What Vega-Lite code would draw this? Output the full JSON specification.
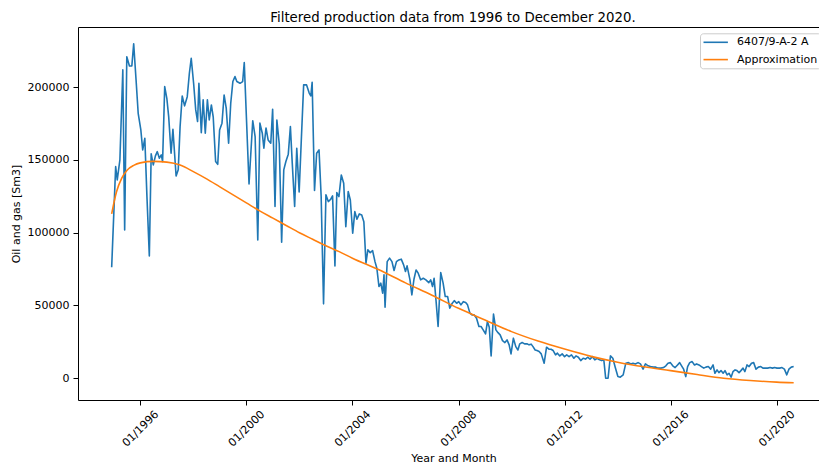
{
  "$schema": "https://vega.github.io/schema/vega-lite/v6.json",
  "autosize": {"type": "none"},
  "padding": {"left": 78, "top": 27, "right": 0, "bottom": 66},
  "width": 741,
  "height": 373,
  "background": "white",
  "title": {
    "text": "Filtered production data from 1996 to December 2020.",
    "font": "DejaVu Sans",
    "fontSize": 13.3,
    "fontWeight": "normal",
    "color": "black",
    "baseline": "alphabetic",
    "offset": 7,
    "dx": 4.5,
    "dy": 15
  },
  "config": {
    "view": {"stroke": null},
    "axis": {
      "domainColor": "black",
      "tickColor": "black",
      "labelColor": "black",
      "titleColor": "black",
      "labelFont": "DejaVu Sans",
      "titleFont": "DejaVu Sans",
      "labelFontSize": 11,
      "titleFontSize": 11,
      "titleFontWeight": "normal",
      "domainWidth": 1,
      "tickWidth": 1,
      "tickSize": 5,
      "grid": false
    },
    "legend": {
      "labelFont": "DejaVu Sans",
      "labelFontSize": 11,
      "labelColor": "black"
    }
  },
  "encoding": {
    "y": {
      "field": "value",
      "type": "quantitative",
      "scale": {"domain": [-15000, 241400], "nice": false, "zero": false},
      "axis": {
        "values": [0, 50000, 100000, 150000, 200000],
        "format": "d",
        "labelPadding": 4,
        "title": "Oil and gas [Sm3]",
        "titlePadding": 6
      }
    },
    "color": {
      "field": "series",
      "type": "nominal",
      "scale": {"domain": ["6407/9-A-2 A", "Approximation"], "range": ["#1f77b4", "#ff7f0e"]},
      "legend": {
        "title": null,
        "orient": "none",
        "legendX": 622,
        "legendY": 6.3,
        "symbolType": "M-2.71,0L2.71,0",
        "symbolSize": 81,
        "symbolStrokeWidth": 1.6,
        "symbolOffset": 6.7,
        "labelOffset": 15.7,
        "padding": 3.5,
        "rowPadding": 5.3,
        "strokeColor": "#cccccc",
        "fillColor": "rgba(255,255,255,0.8)",
        "cornerRadius": 3
      }
    }
  },
  "resolve": {"axis": {"x": "independent"}},
  "layer": [
    {
      "data": {"values": [
        {"year": 1994.92, "value": 76300, "series": "6407/9-A-2 A"},
        {"year": 1995.07, "value": 145400, "series": "6407/9-A-2 A"},
        {"year": 1995.13, "value": 136300, "series": "6407/9-A-2 A"},
        {"year": 1995.23, "value": 150000, "series": "6407/9-A-2 A"},
        {"year": 1995.34, "value": 211900, "series": "6407/9-A-2 A"},
        {"year": 1995.41, "value": 101900, "series": "6407/9-A-2 A"},
        {"year": 1995.49, "value": 221000, "series": "6407/9-A-2 A"},
        {"year": 1995.59, "value": 214600, "series": "6407/9-A-2 A"},
        {"year": 1995.68, "value": 214600, "series": "6407/9-A-2 A"},
        {"year": 1995.75, "value": 229800, "series": "6407/9-A-2 A"},
        {"year": 1995.84, "value": 205000, "series": "6407/9-A-2 A"},
        {"year": 1995.92, "value": 182100, "series": "6407/9-A-2 A"},
        {"year": 1996.02, "value": 170600, "series": "6407/9-A-2 A"},
        {"year": 1996.09, "value": 156900, "series": "6407/9-A-2 A"},
        {"year": 1996.17, "value": 164900, "series": "6407/9-A-2 A"},
        {"year": 1996.25, "value": 124800, "series": "6407/9-A-2 A"},
        {"year": 1996.34, "value": 84000, "series": "6407/9-A-2 A"},
        {"year": 1996.41, "value": 154200, "series": "6407/9-A-2 A"},
        {"year": 1996.49, "value": 146600, "series": "6407/9-A-2 A"},
        {"year": 1996.57, "value": 152800, "series": "6407/9-A-2 A"},
        {"year": 1996.64, "value": 155700, "series": "6407/9-A-2 A"},
        {"year": 1996.72, "value": 151200, "series": "6407/9-A-2 A"},
        {"year": 1996.79, "value": 153500, "series": "6407/9-A-2 A"},
        {"year": 1996.84, "value": 148900, "series": "6407/9-A-2 A"},
        {"year": 1996.92, "value": 200400, "series": "6407/9-A-2 A"},
        {"year": 1997.0, "value": 192400, "series": "6407/9-A-2 A"},
        {"year": 1997.07, "value": 179800, "series": "6407/9-A-2 A"},
        {"year": 1997.16, "value": 154600, "series": "6407/9-A-2 A"},
        {"year": 1997.23, "value": 171100, "series": "6407/9-A-2 A"},
        {"year": 1997.35, "value": 139000, "series": "6407/9-A-2 A"},
        {"year": 1997.43, "value": 143200, "series": "6407/9-A-2 A"},
        {"year": 1997.5, "value": 172900, "series": "6407/9-A-2 A"},
        {"year": 1997.58, "value": 194000, "series": "6407/9-A-2 A"},
        {"year": 1997.67, "value": 187200, "series": "6407/9-A-2 A"},
        {"year": 1997.77, "value": 193500, "series": "6407/9-A-2 A"},
        {"year": 1997.85, "value": 209600, "series": "6407/9-A-2 A"},
        {"year": 1997.92, "value": 219900, "series": "6407/9-A-2 A"},
        {"year": 1998.01, "value": 202700, "series": "6407/9-A-2 A"},
        {"year": 1998.09, "value": 184400, "series": "6407/9-A-2 A"},
        {"year": 1998.16, "value": 176400, "series": "6407/9-A-2 A"},
        {"year": 1998.21, "value": 202700, "series": "6407/9-A-2 A"},
        {"year": 1998.3, "value": 168800, "series": "6407/9-A-2 A"},
        {"year": 1998.37, "value": 191300, "series": "6407/9-A-2 A"},
        {"year": 1998.45, "value": 168400, "series": "6407/9-A-2 A"},
        {"year": 1998.53, "value": 191300, "series": "6407/9-A-2 A"},
        {"year": 1998.6, "value": 177500, "series": "6407/9-A-2 A"},
        {"year": 1998.68, "value": 187800, "series": "6407/9-A-2 A"},
        {"year": 1998.75, "value": 179400, "series": "6407/9-A-2 A"},
        {"year": 1998.84, "value": 148900, "series": "6407/9-A-2 A"},
        {"year": 1998.92, "value": 147000, "series": "6407/9-A-2 A"},
        {"year": 1998.99, "value": 170600, "series": "6407/9-A-2 A"},
        {"year": 1999.08, "value": 175300, "series": "6407/9-A-2 A"},
        {"year": 1999.16, "value": 194700, "series": "6407/9-A-2 A"},
        {"year": 1999.24, "value": 185600, "series": "6407/9-A-2 A"},
        {"year": 1999.33, "value": 161500, "series": "6407/9-A-2 A"},
        {"year": 1999.41, "value": 189000, "series": "6407/9-A-2 A"},
        {"year": 1999.49, "value": 203900, "series": "6407/9-A-2 A"},
        {"year": 1999.57, "value": 207300, "series": "6407/9-A-2 A"},
        {"year": 1999.64, "value": 203900, "series": "6407/9-A-2 A"},
        {"year": 1999.76, "value": 202700, "series": "6407/9-A-2 A"},
        {"year": 1999.86, "value": 203900, "series": "6407/9-A-2 A"},
        {"year": 1999.92, "value": 216900, "series": "6407/9-A-2 A"},
        {"year": 2000.1, "value": 133500, "series": "6407/9-A-2 A"},
        {"year": 2000.24, "value": 177000, "series": "6407/9-A-2 A"},
        {"year": 2000.33, "value": 166100, "series": "6407/9-A-2 A"},
        {"year": 2000.43, "value": 95000, "series": "6407/9-A-2 A"},
        {"year": 2000.51, "value": 175300, "series": "6407/9-A-2 A"},
        {"year": 2000.6, "value": 168400, "series": "6407/9-A-2 A"},
        {"year": 2000.66, "value": 158100, "series": "6407/9-A-2 A"},
        {"year": 2000.74, "value": 172000, "series": "6407/9-A-2 A"},
        {"year": 2000.82, "value": 163800, "series": "6407/9-A-2 A"},
        {"year": 2000.92, "value": 161500, "series": "6407/9-A-2 A"},
        {"year": 2000.99, "value": 184900, "series": "6407/9-A-2 A"},
        {"year": 2001.08, "value": 118000, "series": "6407/9-A-2 A"},
        {"year": 2001.15, "value": 177500, "series": "6407/9-A-2 A"},
        {"year": 2001.24, "value": 161000, "series": "6407/9-A-2 A"},
        {"year": 2001.33, "value": 93500, "series": "6407/9-A-2 A"},
        {"year": 2001.41, "value": 143200, "series": "6407/9-A-2 A"},
        {"year": 2001.49, "value": 148900, "series": "6407/9-A-2 A"},
        {"year": 2001.58, "value": 154000, "series": "6407/9-A-2 A"},
        {"year": 2001.66, "value": 172900, "series": "6407/9-A-2 A"},
        {"year": 2001.73, "value": 147800, "series": "6407/9-A-2 A"},
        {"year": 2001.82, "value": 118000, "series": "6407/9-A-2 A"},
        {"year": 2001.9, "value": 158000, "series": "6407/9-A-2 A"},
        {"year": 2001.99, "value": 128000, "series": "6407/9-A-2 A"},
        {"year": 2002.07, "value": 163000, "series": "6407/9-A-2 A"},
        {"year": 2002.16, "value": 201600, "series": "6407/9-A-2 A"},
        {"year": 2002.27, "value": 201600, "series": "6407/9-A-2 A"},
        {"year": 2002.37, "value": 196000, "series": "6407/9-A-2 A"},
        {"year": 2002.43, "value": 194000, "series": "6407/9-A-2 A"},
        {"year": 2002.48, "value": 203400, "series": "6407/9-A-2 A"},
        {"year": 2002.57, "value": 129000, "series": "6407/9-A-2 A"},
        {"year": 2002.65, "value": 154600, "series": "6407/9-A-2 A"},
        {"year": 2002.74, "value": 156900, "series": "6407/9-A-2 A"},
        {"year": 2002.82, "value": 125000, "series": "6407/9-A-2 A"},
        {"year": 2002.91, "value": 51100, "series": "6407/9-A-2 A"},
        {"year": 2003.0, "value": 126000, "series": "6407/9-A-2 A"},
        {"year": 2003.09, "value": 121400, "series": "6407/9-A-2 A"},
        {"year": 2003.18, "value": 123000, "series": "6407/9-A-2 A"},
        {"year": 2003.25, "value": 125300, "series": "6407/9-A-2 A"},
        {"year": 2003.34, "value": 77200, "series": "6407/9-A-2 A"},
        {"year": 2003.41, "value": 127600, "series": "6407/9-A-2 A"},
        {"year": 2003.49, "value": 124800, "series": "6407/9-A-2 A"},
        {"year": 2003.58, "value": 139700, "series": "6407/9-A-2 A"},
        {"year": 2003.67, "value": 134000, "series": "6407/9-A-2 A"},
        {"year": 2003.75, "value": 104200, "series": "6407/9-A-2 A"},
        {"year": 2003.84, "value": 128300, "series": "6407/9-A-2 A"},
        {"year": 2003.92, "value": 122500, "series": "6407/9-A-2 A"},
        {"year": 2004.01, "value": 99700, "series": "6407/9-A-2 A"},
        {"year": 2004.09, "value": 114500, "series": "6407/9-A-2 A"},
        {"year": 2004.17, "value": 109300, "series": "6407/9-A-2 A"},
        {"year": 2004.26, "value": 112900, "series": "6407/9-A-2 A"},
        {"year": 2004.35, "value": 112200, "series": "6407/9-A-2 A"},
        {"year": 2004.43, "value": 107600, "series": "6407/9-A-2 A"},
        {"year": 2004.51, "value": 79000, "series": "6407/9-A-2 A"},
        {"year": 2004.58, "value": 88200, "series": "6407/9-A-2 A"},
        {"year": 2004.67, "value": 86300, "series": "6407/9-A-2 A"},
        {"year": 2004.76, "value": 87700, "series": "6407/9-A-2 A"},
        {"year": 2004.85, "value": 80100, "series": "6407/9-A-2 A"},
        {"year": 2004.92, "value": 75600, "series": "6407/9-A-2 A"},
        {"year": 2005.0, "value": 63000, "series": "6407/9-A-2 A"},
        {"year": 2005.07, "value": 65300, "series": "6407/9-A-2 A"},
        {"year": 2005.14, "value": 58400, "series": "6407/9-A-2 A"},
        {"year": 2005.19, "value": 71000, "series": "6407/9-A-2 A"},
        {"year": 2005.23, "value": 48800, "series": "6407/9-A-2 A"},
        {"year": 2005.31, "value": 80100, "series": "6407/9-A-2 A"},
        {"year": 2005.4, "value": 82500, "series": "6407/9-A-2 A"},
        {"year": 2005.49, "value": 80100, "series": "6407/9-A-2 A"},
        {"year": 2005.57, "value": 74000, "series": "6407/9-A-2 A"},
        {"year": 2005.66, "value": 80100, "series": "6407/9-A-2 A"},
        {"year": 2005.75, "value": 81300, "series": "6407/9-A-2 A"},
        {"year": 2005.84, "value": 81800, "series": "6407/9-A-2 A"},
        {"year": 2005.93, "value": 77900, "series": "6407/9-A-2 A"},
        {"year": 2006.0, "value": 73300, "series": "6407/9-A-2 A"},
        {"year": 2006.06, "value": 77200, "series": "6407/9-A-2 A"},
        {"year": 2006.17, "value": 67600, "series": "6407/9-A-2 A"},
        {"year": 2006.24, "value": 57300, "series": "6407/9-A-2 A"},
        {"year": 2006.32, "value": 68000, "series": "6407/9-A-2 A"},
        {"year": 2006.4, "value": 74400, "series": "6407/9-A-2 A"},
        {"year": 2006.48, "value": 72200, "series": "6407/9-A-2 A"},
        {"year": 2006.57, "value": 67600, "series": "6407/9-A-2 A"},
        {"year": 2006.67, "value": 68700, "series": "6407/9-A-2 A"},
        {"year": 2006.77, "value": 67600, "series": "6407/9-A-2 A"},
        {"year": 2006.88, "value": 65700, "series": "6407/9-A-2 A"},
        {"year": 2006.95, "value": 67600, "series": "6407/9-A-2 A"},
        {"year": 2007.02, "value": 63000, "series": "6407/9-A-2 A"},
        {"year": 2007.08, "value": 68700, "series": "6407/9-A-2 A"},
        {"year": 2007.15, "value": 53800, "series": "6407/9-A-2 A"},
        {"year": 2007.23, "value": 35500, "series": "6407/9-A-2 A"},
        {"year": 2007.33, "value": 72600, "series": "6407/9-A-2 A"},
        {"year": 2007.42, "value": 65300, "series": "6407/9-A-2 A"},
        {"year": 2007.5, "value": 56100, "series": "6407/9-A-2 A"},
        {"year": 2007.59, "value": 56100, "series": "6407/9-A-2 A"},
        {"year": 2007.67, "value": 48100, "series": "6407/9-A-2 A"},
        {"year": 2007.75, "value": 51100, "series": "6407/9-A-2 A"},
        {"year": 2007.84, "value": 53300, "series": "6407/9-A-2 A"},
        {"year": 2007.93, "value": 51500, "series": "6407/9-A-2 A"},
        {"year": 2008.01, "value": 52600, "series": "6407/9-A-2 A"},
        {"year": 2008.09, "value": 50400, "series": "6407/9-A-2 A"},
        {"year": 2008.18, "value": 52600, "series": "6407/9-A-2 A"},
        {"year": 2008.27, "value": 52000, "series": "6407/9-A-2 A"},
        {"year": 2008.34, "value": 50400, "series": "6407/9-A-2 A"},
        {"year": 2008.43, "value": 44700, "series": "6407/9-A-2 A"},
        {"year": 2008.51, "value": 43500, "series": "6407/9-A-2 A"},
        {"year": 2008.59, "value": 43500, "series": "6407/9-A-2 A"},
        {"year": 2008.68, "value": 41200, "series": "6407/9-A-2 A"},
        {"year": 2008.77, "value": 35500, "series": "6407/9-A-2 A"},
        {"year": 2008.85, "value": 35500, "series": "6407/9-A-2 A"},
        {"year": 2008.93, "value": 33200, "series": "6407/9-A-2 A"},
        {"year": 2009.02, "value": 30400, "series": "6407/9-A-2 A"},
        {"year": 2009.09, "value": 38900, "series": "6407/9-A-2 A"},
        {"year": 2009.16, "value": 35000, "series": "6407/9-A-2 A"},
        {"year": 2009.23, "value": 15300, "series": "6407/9-A-2 A"},
        {"year": 2009.32, "value": 44000, "series": "6407/9-A-2 A"},
        {"year": 2009.41, "value": 33200, "series": "6407/9-A-2 A"},
        {"year": 2009.49, "value": 31300, "series": "6407/9-A-2 A"},
        {"year": 2009.57, "value": 29800, "series": "6407/9-A-2 A"},
        {"year": 2009.66, "value": 25800, "series": "6407/9-A-2 A"},
        {"year": 2009.75, "value": 24500, "series": "6407/9-A-2 A"},
        {"year": 2009.83, "value": 26300, "series": "6407/9-A-2 A"},
        {"year": 2009.91, "value": 22900, "series": "6407/9-A-2 A"},
        {"year": 2009.98, "value": 16700, "series": "6407/9-A-2 A"},
        {"year": 2010.07, "value": 27500, "series": "6407/9-A-2 A"},
        {"year": 2010.16, "value": 21700, "series": "6407/9-A-2 A"},
        {"year": 2010.24, "value": 19400, "series": "6407/9-A-2 A"},
        {"year": 2010.31, "value": 23600, "series": "6407/9-A-2 A"},
        {"year": 2010.4, "value": 24500, "series": "6407/9-A-2 A"},
        {"year": 2010.49, "value": 23600, "series": "6407/9-A-2 A"},
        {"year": 2010.58, "value": 23600, "series": "6407/9-A-2 A"},
        {"year": 2010.66, "value": 22900, "series": "6407/9-A-2 A"},
        {"year": 2010.74, "value": 23400, "series": "6407/9-A-2 A"},
        {"year": 2010.81, "value": 21700, "series": "6407/9-A-2 A"},
        {"year": 2010.89, "value": 19400, "series": "6407/9-A-2 A"},
        {"year": 2010.96, "value": 19000, "series": "6407/9-A-2 A"},
        {"year": 2011.04, "value": 18300, "series": "6407/9-A-2 A"},
        {"year": 2011.12, "value": 16700, "series": "6407/9-A-2 A"},
        {"year": 2011.23, "value": 10300, "series": "6407/9-A-2 A"},
        {"year": 2011.32, "value": 21300, "series": "6407/9-A-2 A"},
        {"year": 2011.41, "value": 19900, "series": "6407/9-A-2 A"},
        {"year": 2011.49, "value": 19900, "series": "6407/9-A-2 A"},
        {"year": 2011.57, "value": 19000, "series": "6407/9-A-2 A"},
        {"year": 2011.66, "value": 16000, "series": "6407/9-A-2 A"},
        {"year": 2011.73, "value": 17200, "series": "6407/9-A-2 A"},
        {"year": 2011.82, "value": 15300, "series": "6407/9-A-2 A"},
        {"year": 2011.91, "value": 16700, "series": "6407/9-A-2 A"},
        {"year": 2012.0, "value": 14800, "series": "6407/9-A-2 A"},
        {"year": 2012.08, "value": 16000, "series": "6407/9-A-2 A"},
        {"year": 2012.17, "value": 14800, "series": "6407/9-A-2 A"},
        {"year": 2012.26, "value": 16000, "series": "6407/9-A-2 A"},
        {"year": 2012.35, "value": 13700, "series": "6407/9-A-2 A"},
        {"year": 2012.43, "value": 15300, "series": "6407/9-A-2 A"},
        {"year": 2012.52, "value": 14400, "series": "6407/9-A-2 A"},
        {"year": 2012.61, "value": 12100, "series": "6407/9-A-2 A"},
        {"year": 2012.7, "value": 13700, "series": "6407/9-A-2 A"},
        {"year": 2012.79, "value": 13100, "series": "6407/9-A-2 A"},
        {"year": 2012.87, "value": 14400, "series": "6407/9-A-2 A"},
        {"year": 2012.96, "value": 13100, "series": "6407/9-A-2 A"},
        {"year": 2013.05, "value": 14800, "series": "6407/9-A-2 A"},
        {"year": 2013.14, "value": 12600, "series": "6407/9-A-2 A"},
        {"year": 2013.23, "value": 13700, "series": "6407/9-A-2 A"},
        {"year": 2013.32, "value": 12600, "series": "6407/9-A-2 A"},
        {"year": 2013.4, "value": 12100, "series": "6407/9-A-2 A"},
        {"year": 2013.48, "value": 12600, "series": "6407/9-A-2 A"},
        {"year": 2013.55, "value": 0, "series": "6407/9-A-2 A"},
        {"year": 2013.64, "value": 0, "series": "6407/9-A-2 A"},
        {"year": 2013.73, "value": 15300, "series": "6407/9-A-2 A"},
        {"year": 2013.82, "value": 13700, "series": "6407/9-A-2 A"},
        {"year": 2013.91, "value": 7500, "series": "6407/9-A-2 A"},
        {"year": 2014.01, "value": 1100, "series": "6407/9-A-2 A"},
        {"year": 2014.1, "value": 700, "series": "6407/9-A-2 A"},
        {"year": 2014.21, "value": 2300, "series": "6407/9-A-2 A"},
        {"year": 2014.31, "value": 10300, "series": "6407/9-A-2 A"},
        {"year": 2014.41, "value": 10700, "series": "6407/9-A-2 A"},
        {"year": 2014.5, "value": 9800, "series": "6407/9-A-2 A"},
        {"year": 2014.58, "value": 10300, "series": "6407/9-A-2 A"},
        {"year": 2014.67, "value": 9800, "series": "6407/9-A-2 A"},
        {"year": 2014.77, "value": 10700, "series": "6407/9-A-2 A"},
        {"year": 2014.86, "value": 9800, "series": "6407/9-A-2 A"},
        {"year": 2014.96, "value": 6200, "series": "6407/9-A-2 A"},
        {"year": 2015.05, "value": 9800, "series": "6407/9-A-2 A"},
        {"year": 2015.15, "value": 8500, "series": "6407/9-A-2 A"},
        {"year": 2015.24, "value": 8000, "series": "6407/9-A-2 A"},
        {"year": 2015.34, "value": 7600, "series": "6407/9-A-2 A"},
        {"year": 2015.44, "value": 7600, "series": "6407/9-A-2 A"},
        {"year": 2015.52, "value": 6900, "series": "6407/9-A-2 A"},
        {"year": 2015.63, "value": 6900, "series": "6407/9-A-2 A"},
        {"year": 2015.73, "value": 7300, "series": "6407/9-A-2 A"},
        {"year": 2015.82, "value": 8500, "series": "6407/9-A-2 A"},
        {"year": 2015.9, "value": 10300, "series": "6407/9-A-2 A"},
        {"year": 2015.99, "value": 10700, "series": "6407/9-A-2 A"},
        {"year": 2016.08, "value": 8500, "series": "6407/9-A-2 A"},
        {"year": 2016.17, "value": 7300, "series": "6407/9-A-2 A"},
        {"year": 2016.26, "value": 9100, "series": "6407/9-A-2 A"},
        {"year": 2016.34, "value": 10700, "series": "6407/9-A-2 A"},
        {"year": 2016.43, "value": 8000, "series": "6407/9-A-2 A"},
        {"year": 2016.49, "value": 6200, "series": "6407/9-A-2 A"},
        {"year": 2016.57, "value": 1100, "series": "6407/9-A-2 A"},
        {"year": 2016.64, "value": 8000, "series": "6407/9-A-2 A"},
        {"year": 2016.72, "value": 10700, "series": "6407/9-A-2 A"},
        {"year": 2016.81, "value": 11400, "series": "6407/9-A-2 A"},
        {"year": 2016.9, "value": 9100, "series": "6407/9-A-2 A"},
        {"year": 2016.98, "value": 9800, "series": "6407/9-A-2 A"},
        {"year": 2017.07, "value": 9100, "series": "6407/9-A-2 A"},
        {"year": 2017.16, "value": 8000, "series": "6407/9-A-2 A"},
        {"year": 2017.25, "value": 6900, "series": "6407/9-A-2 A"},
        {"year": 2017.33, "value": 7600, "series": "6407/9-A-2 A"},
        {"year": 2017.42, "value": 8000, "series": "6407/9-A-2 A"},
        {"year": 2017.51, "value": 6200, "series": "6407/9-A-2 A"},
        {"year": 2017.6, "value": 9100, "series": "6407/9-A-2 A"},
        {"year": 2017.67, "value": 3400, "series": "6407/9-A-2 A"},
        {"year": 2017.75, "value": 5700, "series": "6407/9-A-2 A"},
        {"year": 2017.82, "value": 3800, "series": "6407/9-A-2 A"},
        {"year": 2017.9, "value": 5200, "series": "6407/9-A-2 A"},
        {"year": 2017.98, "value": 3400, "series": "6407/9-A-2 A"},
        {"year": 2018.05, "value": 5200, "series": "6407/9-A-2 A"},
        {"year": 2018.13, "value": 2300, "series": "6407/9-A-2 A"},
        {"year": 2018.2, "value": 3400, "series": "6407/9-A-2 A"},
        {"year": 2018.28, "value": 700, "series": "6407/9-A-2 A"},
        {"year": 2018.35, "value": 4500, "series": "6407/9-A-2 A"},
        {"year": 2018.43, "value": 5700, "series": "6407/9-A-2 A"},
        {"year": 2018.5, "value": 5200, "series": "6407/9-A-2 A"},
        {"year": 2018.58, "value": 3800, "series": "6407/9-A-2 A"},
        {"year": 2018.65, "value": 5200, "series": "6407/9-A-2 A"},
        {"year": 2018.73, "value": 6900, "series": "6407/9-A-2 A"},
        {"year": 2018.8, "value": 4500, "series": "6407/9-A-2 A"},
        {"year": 2018.88, "value": 9100, "series": "6407/9-A-2 A"},
        {"year": 2018.96, "value": 8000, "series": "6407/9-A-2 A"},
        {"year": 2019.05, "value": 10300, "series": "6407/9-A-2 A"},
        {"year": 2019.13, "value": 10700, "series": "6407/9-A-2 A"},
        {"year": 2019.22, "value": 6200, "series": "6407/9-A-2 A"},
        {"year": 2019.31, "value": 7600, "series": "6407/9-A-2 A"},
        {"year": 2019.4, "value": 8000, "series": "6407/9-A-2 A"},
        {"year": 2019.48, "value": 6900, "series": "6407/9-A-2 A"},
        {"year": 2019.57, "value": 6900, "series": "6407/9-A-2 A"},
        {"year": 2019.66, "value": 6900, "series": "6407/9-A-2 A"},
        {"year": 2019.75, "value": 7300, "series": "6407/9-A-2 A"},
        {"year": 2019.84, "value": 6900, "series": "6407/9-A-2 A"},
        {"year": 2019.92, "value": 7300, "series": "6407/9-A-2 A"},
        {"year": 2020.01, "value": 6900, "series": "6407/9-A-2 A"},
        {"year": 2020.11, "value": 6900, "series": "6407/9-A-2 A"},
        {"year": 2020.2, "value": 7300, "series": "6407/9-A-2 A"},
        {"year": 2020.29, "value": 6200, "series": "6407/9-A-2 A"},
        {"year": 2020.38, "value": 2300, "series": "6407/9-A-2 A"},
        {"year": 2020.46, "value": 6200, "series": "6407/9-A-2 A"},
        {"year": 2020.55, "value": 7600, "series": "6407/9-A-2 A"},
        {"year": 2020.64, "value": 8000, "series": "6407/9-A-2 A"}
      ]},
      "mark": {"type": "line", "strokeWidth": 1.6, "strokeJoin": "round"},
      "encoding": {
        "x": {
          "field": "year",
          "type": "quantitative",
          "scale": {"domain": [1993.65, 2021.595], "nice": false, "zero": false},
          "axis": {
            "values": [1996, 2000, 2004, 2008, 2012, 2016, 2020],
            "labelExpr": "'01/' + datum.value",
            "labelAngle": -45,
            "labelAlign": "center",
            "labelBaseline": "middle",
            "labelPadding": 23.5,
            "labelOverlap": false,
            "labelFlush": false,
            "title": "Year and Month",
            "titleX": 375.5,
            "titlePadding": 4
          }
        }
      }
    },
    {
      "data": {"values": [
        {"year": 1994.92, "value": 113000, "series": "Approximation"},
        {"year": 1995.1, "value": 128000, "series": "Approximation"},
        {"year": 1995.3, "value": 137500, "series": "Approximation"},
        {"year": 1995.5, "value": 143000, "series": "Approximation"},
        {"year": 1995.75, "value": 146300, "series": "Approximation"},
        {"year": 1996.0, "value": 148000, "series": "Approximation"},
        {"year": 1996.5, "value": 149000, "series": "Approximation"},
        {"year": 1997.0, "value": 148500, "series": "Approximation"},
        {"year": 1997.5, "value": 146500, "series": "Approximation"},
        {"year": 1998.0, "value": 142000, "series": "Approximation"},
        {"year": 1998.5, "value": 137000, "series": "Approximation"},
        {"year": 1999.0, "value": 131500, "series": "Approximation"},
        {"year": 1999.5, "value": 126000, "series": "Approximation"},
        {"year": 2000.0, "value": 120500, "series": "Approximation"},
        {"year": 2000.5, "value": 115000, "series": "Approximation"},
        {"year": 2001.0, "value": 110000, "series": "Approximation"},
        {"year": 2001.5, "value": 105000, "series": "Approximation"},
        {"year": 2002.0, "value": 100000, "series": "Approximation"},
        {"year": 2002.5, "value": 95500, "series": "Approximation"},
        {"year": 2003.0, "value": 91000, "series": "Approximation"},
        {"year": 2003.5, "value": 87000, "series": "Approximation"},
        {"year": 2004.0, "value": 82500, "series": "Approximation"},
        {"year": 2005.0, "value": 74500, "series": "Approximation"},
        {"year": 2006.0, "value": 65500, "series": "Approximation"},
        {"year": 2007.0, "value": 57000, "series": "Approximation"},
        {"year": 2008.0, "value": 48000, "series": "Approximation"},
        {"year": 2009.0, "value": 40000, "series": "Approximation"},
        {"year": 2010.0, "value": 32000, "series": "Approximation"},
        {"year": 2011.0, "value": 25500, "series": "Approximation"},
        {"year": 2012.0, "value": 20000, "series": "Approximation"},
        {"year": 2013.0, "value": 15000, "series": "Approximation"},
        {"year": 2014.0, "value": 11000, "series": "Approximation"},
        {"year": 2015.0, "value": 7800, "series": "Approximation"},
        {"year": 2016.0, "value": 5200, "series": "Approximation"},
        {"year": 2017.0, "value": 2500, "series": "Approximation"},
        {"year": 2018.0, "value": 0, "series": "Approximation"},
        {"year": 2019.0, "value": -1600, "series": "Approximation"},
        {"year": 2020.0, "value": -2700, "series": "Approximation"},
        {"year": 2020.64, "value": -3100, "series": "Approximation"}
      ]},
      "mark": {"type": "line", "strokeWidth": 1.6, "interpolate": "monotone"},
      "encoding": {
        "x": {
          "field": "year",
          "type": "quantitative",
          "scale": {"domain": [1993.65, 2021.595], "nice": false, "zero": false},
          "axis": {
            "orient": "top",
            "labels": false,
            "ticks": false,
            "title": null,
            "domain": true
          }
        }
      }
    }
  ]
}
